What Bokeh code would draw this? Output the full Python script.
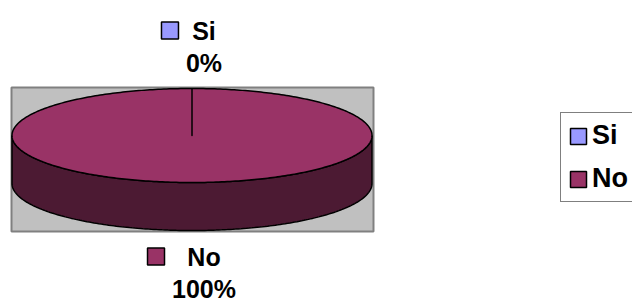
import numpy as np
from bokeh.plotting import figure
from bokeh.models import Range1d, Legend, LegendItem
from bokeh.embed import file_html
from bokeh.resources import INLINE
from bokeh.core.properties import value

# ---- data ----
categories = ["Si", "No"]
values = [0, 100]
colors = ["#9999FF", "#993366"]
side_colors = ["#4D4D80", "#4C1A33"]

FONT = "Liberation Sans"
W, H = 632, 304
p = figure(width=W, height=H, x_range=Range1d(0, W), y_range=Range1d(H, 0),
           output_backend="svg", toolbar_location=None, min_border=0)
p.axis.visible = False
p.grid.visible = False
p.outline_line_color = None
p.background_fill_color = "white"
p.border_fill_color = "white"

# plot area (layout)
p.quad(left=11, right=373, top=87, bottom=231, fill_color="#C0C0C0",
       line_color="#808080", line_width=2)

cx, cy, rx, ry, depth = 191.5, 135.0, 180.0, 47.0, 48.0

total = float(sum(values))
fracs = [v / total for v in values]
starts = np.cumsum([0.0] + fracs[:-1]) * 360.0
ends = starts + np.array(fracs) * 360.0


def pt(deg, dy=0.0):
    t = np.radians(deg)
    return cx + rx * np.sin(t), cy - ry * np.cos(t) + dy


# sides (front half only: 90..270 clockwise from top)
for a0, a1, sc in zip(starts, ends, side_colors):
    lo, hi = max(a0, 90.0), min(a1, 270.0)
    if hi <= lo:
        continue
    ts = np.linspace(lo, hi, 200)
    xs_t, ys_t = pt(ts)
    xs_b, ys_b = pt(ts[::-1], depth)
    p.patch(list(xs_t) + list(xs_b), list(ys_t) + list(ys_b), fill_color=sc,
            line_color="black", line_width=1.5)

# tops
for a0, a1, c in zip(starts, ends, colors):
    if a1 - a0 <= 0:
        continue
    ts = np.linspace(a0, a1, 400)
    xs, ys = pt(ts)
    p.patch([cx] + list(xs) + [cx], [cy] + list(ys) + [cy], fill_color=c,
            line_color="black", line_width=1.5, line_join="round")

# data labels
bold_w = {"S": 0.667, "i": 0.278, "N": 0.722, "o": 0.611}
fs = 25
key_renderers = []
for name, v, a0, a1, c in zip(categories, values, starts, ends, colors):
    mid = np.radians((a0 + a1) / 2.0)
    off = 42.0
    ax = cx + (rx + off) * np.sin(mid) + 12
    ay = cy - (ry + off) * np.cos(mid) + (depth if np.cos(mid) < 0 else 0)
    l1 = ay - 16
    l2 = ay + 16
    p.text([ax], [l1], text=[name], text_font=value(FONT), text_font_style="bold",
           text_font_size=f"{fs}px", text_align="center", text_baseline="middle",
           text_color="black")
    pct = f"{round(v / total * 100):d}%"
    p.text([ax], [l2], text=[pct], text_font=value(FONT), text_font_style="bold",
           text_font_size=f"{fs}px", text_align="center", text_baseline="middle",
           text_color="black")
    tw = sum(bold_w.get(ch, 0.6) for ch in name) * fs
    kx = ax - 1.44 * tw
    r = p.rect([kx], [l1], width=17, height=17, width_units="screen", height_units="screen",
               fill_color=c, line_color="black", line_width=1.5)
    key_renderers.append(r)

legend = Legend(items=[LegendItem(label=n, renderers=[r]) for n, r in zip(categories, key_renderers)],
                location=(560, 102), orientation="vertical")
legend.label_text_font = FONT
legend.label_text_font_style = "bold"
legend.label_text_font_size = "27px"
legend.label_text_color = "black"
legend.label_standoff = 4
legend.glyph_width = 20
legend.glyph_height = 20
legend.label_height = 30
legend.spacing = 12
legend.padding = 7
legend.margin = 0
legend.border_line_color = "black"
legend.border_line_width = 1.5
legend.background_fill_color = "white"
legend.background_fill_alpha = 1.0
p.add_layout(legend, "center")

open("out.html", "w").write(file_html(p, INLINE))
